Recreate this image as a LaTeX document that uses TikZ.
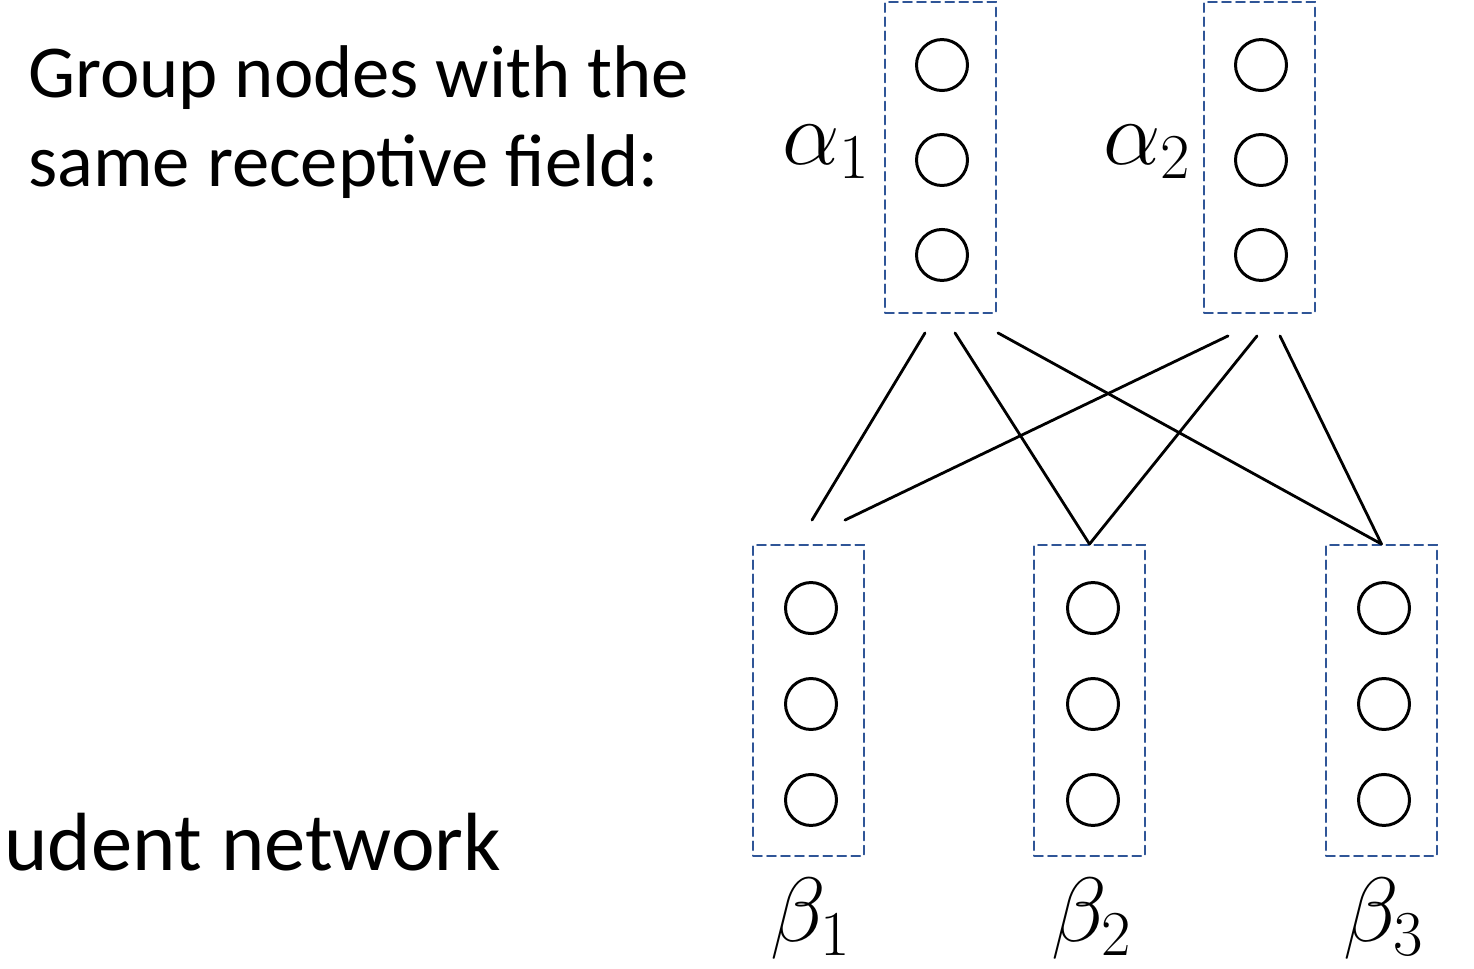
\RequirePackage{fix-cm}
\documentclass[tikz,border=0pt]{standalone}
\usepackage{fontspec}
\usepackage{amsmath}
\usepackage{xcolor}
\usetikzlibrary{calc,positioning}
\newfontfamily\slidefont{Carlito}
\definecolor{boxblue}{RGB}{47,85,151}

\begin{document}
\begin{tikzpicture}[x=0.02cm, y=-0.02cm, line cap=round,
  group/.style={draw=boxblue, line width=1.1pt, dash pattern=on 5pt off 3pt,
    minimum width=2.22cm, minimum height=6.22cm, inner sep=0pt},
  unit/.style={circle, draw, line width=1.7pt, minimum size=1.02cm, inner sep=0pt},
  wire/.style={line width=1.6pt},
  lbl/.style={font=\fontsize{52}{62}\selectfont, inner sep=0pt},
  txt/.style={font=\slidefont\fontsize{42.5}{51}\selectfont, inner sep=0pt}]
\useasboundingbox (0,0) rectangle (1474,969);
\node[txt, anchor=base west] (grp1) at (28,98) {Group nodes with the};
\node[txt, anchor=base west] (grp2) at (28,187) {same receptive field:};
\node[txt, anchor=base west, font=\slidefont\fontsize{47}{56}\selectfont] (stud) at (4,870) {udent network};
% groups
\node[group] (a1) at (940.5,157.5) {};
\node[group] (a2) at (1259.5,157.5) {};
\node[group] (b1) at (808.5,700.5) {};
\node[group] (b2) at (1089.5,700.5) {};
\node[group] (b3) at (1381.5,700.5) {};
% units
\node[unit] (a1m) at (942,160) {};
\node[unit, above=0.82cm of a1m] (a1t) {};
\node[unit, below=0.82cm of a1m] (a1b) {};
\node[unit] (a2m) at (1261,160) {};
\node[unit, above=0.82cm of a2m] (a2t) {};
\node[unit, below=0.82cm of a2m] (a2b) {};
\node[unit] (b1m) at (811,704) {};
\node[unit, above=0.84cm of b1m] (b1t) {};
\node[unit, below=0.84cm of b1m] (b1b) {};
\node[unit] (b2m) at (1093,704) {};
\node[unit, above=0.84cm of b2m] (b2t) {};
\node[unit, below=0.84cm of b2m] (b2b) {};
\node[unit] (b3m) at (1384,704) {};
\node[unit, above=0.84cm of b3m] (b3t) {};
\node[unit, below=0.84cm of b3m] (b3b) {};
% labels
\node[lbl, anchor=east] (la1) at ($(a1.west)+(-14,-6)$) {$\alpha_1$};
\node[lbl, anchor=east] (la2) at ($(a2.west)+(-12,-6)$) {$\alpha_2$};
\node[lbl, anchor=north] (lb1) at ($(b1.south)+(2,21)$) {$\beta_1$};
\node[lbl, anchor=north] (lb2) at ($(b2.south)+(2,21)$) {$\beta_2$};
\node[lbl, anchor=north] (lb3) at ($(b3.south)+(2,21)$) {$\beta_3$};
% connections
\draw[wire] ($(a1.south)+(-15.5,19)$) -- ($(b1.north)+(3.5,-24)$);
\draw[wire] ($(a1.south)+(14.5,19)$) -- (b2.north);
\draw[wire] ($(a1.south)+(57.5,19)$) -- (b3.north);
\draw[wire] ($(a2.south)+(-31.5,22)$) -- ($(b1.north)+(36.5,-24)$);
\draw[wire] ($(a2.south)+(-2.5,22)$) -- (b2.north);
\draw[wire] ($(a2.south)+(20.5,22)$) -- (b3.north);
\end{tikzpicture}
\end{document}
